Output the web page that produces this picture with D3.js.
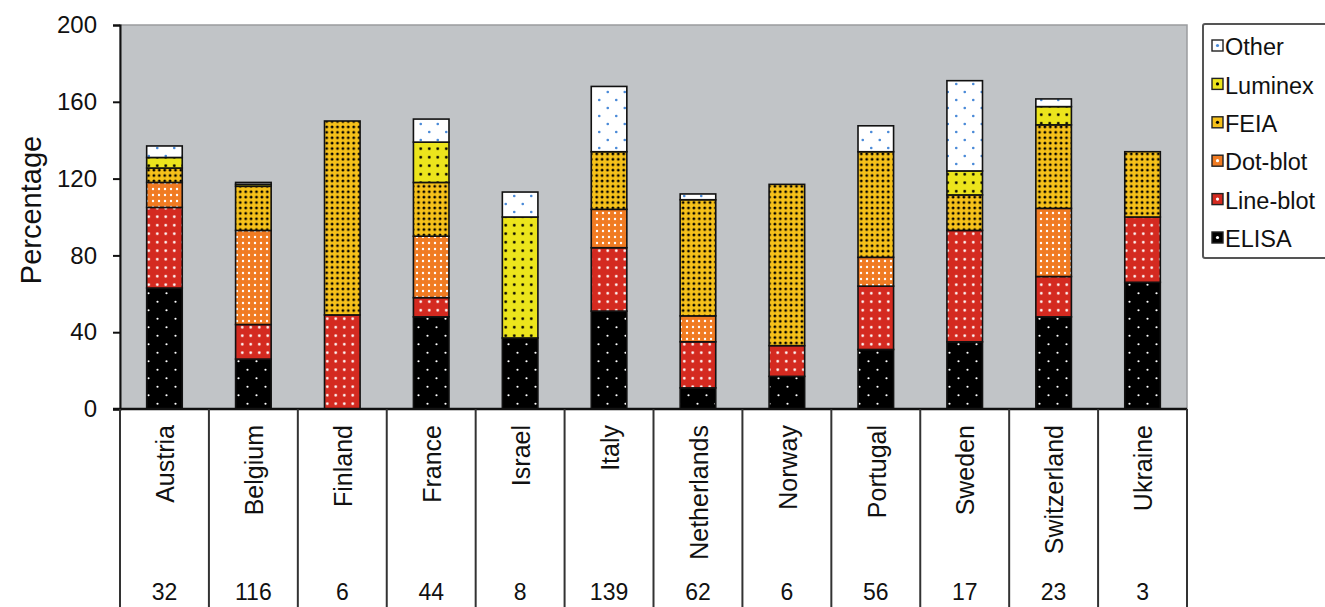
<!DOCTYPE html>
<html lang="en">
<head>
    <meta charset="UTF-8">
    <title>Stacked test methods by country</title>
    <script src="https://d3js.org/d3.v7.min.js"></script>
    <style>
        body {
            margin: 0;
            padding: 0;
            background: white;
            font-family: "Liberation Sans", Arial, sans-serif;
        }
    </style>
</head>
<body>
    <div id="chart"></div>
    <script>
        // data
        const countries = ["Austria", "Belgium", "Finland", "France", "Israel", "Italy",
            "Netherlands", "Norway", "Portugal", "Sweden", "Switzerland", "Ukraine"]
        const counts = ["32", "116", "6", "44", "8", "139", "62", "6", "56", "17", "23", "3"]
        const elisa    = [63, 26, 0, 48, 37, 51, 11, 17, 31, 35, 48, 66]
        const lineBlot = [42, 18, 49, 10, 0, 33, 24, 16, 33, 58, 21, 34]
        const dotBlot  = [13, 49, 0, 32, 0, 20, 13.5, 0, 15, 0, 35.5, 0]
        const feia     = [7.5, 23, 101, 28, 0, 30, 60.5, 84, 55, 18.5, 43.5, 34]
        const luminex  = [5.5, 1, 0, 21, 63, 0, 0, 0, 0, 12.5, 9.5, 0]
        const other    = [6, 1, 0, 12, 13, 34, 3, 0, 13.5, 47, 4, 0]
        const seriesNames = ["ELISA", "Line-blot", "Dot-blot", "FEIA", "Luminex", "Other"]
        const yTicks = [0, 40, 80, 120, 160, 200]

        // 1. dimensions
        const width = 1325, height = 607
        const plot = { left: 120, right: 1187, top: 25, bottom: 409 }

        const svg = d3.select("#chart").append("svg")
            .attr("width", width)
            .attr("height", height)
            .style("display", "block")

        // 2. patterns for each method
        const patterns = {
            "ELISA":     { bg: "#000000", dot: "#ffffff", w: 18, h: 17, r: 1.1, stagger: true },
            "Line-blot": { bg: "#d42a20", dot: "#ffffff", w: 8.5, h: 8.5, r: 1.3, stagger: false },
            "Dot-blot":  { bg: "#f07b22", dot: "#ffffff", w: 6, h: 6, r: 1.2, stagger: false },
            "FEIA":      { bg: "#f6c11a", dot: "#000000", w: 5.4, h: 5.4, r: 1.4, stagger: false },
            "Luminex":   { bg: "#ece51c", dot: "#000000", w: 8.5, h: 8.5, r: 1.4, stagger: false },
            "Other":     { bg: "#ffffff", dot: "#4a8ad8", w: 17, h: 16, r: 1.3, stagger: true }
        }
        const defs = svg.append("defs")
        seriesNames.forEach(name => {
            const p = patterns[name]
            const pat = defs.append("pattern")
                .attr("id", "pat-" + name)
                .attr("patternUnits", "userSpaceOnUse")
                .attr("width", p.w)
                .attr("height", p.h)
            pat.append("rect").attr("width", p.w).attr("height", p.h).attr("fill", p.bg)
            if (p.stagger) {
                pat.append("circle").attr("cx", p.w * 0.25).attr("cy", p.h * 0.25).attr("r", p.r).attr("fill", p.dot)
                pat.append("circle").attr("cx", p.w * 0.75).attr("cy", p.h * 0.75).attr("r", p.r).attr("fill", p.dot)
            } else {
                pat.append("circle").attr("cx", p.w / 2).attr("cy", p.h / 2).attr("r", p.r).attr("fill", p.dot)
            }
        })

        // 3. scales
        const xScale = d3.scaleBand()
            .domain(countries)
            .range([plot.left, plot.right])
            .paddingInner(0.6)
            .paddingOuter(0.3)

        const yScale = d3.scaleLinear()
            .domain([0, 200])
            .range([plot.bottom, plot.top])

        // plot background
        svg.append("rect")
            .attr("x", plot.left)
            .attr("y", plot.top)
            .attr("width", plot.right - plot.left)
            .attr("height", plot.bottom - plot.top)
            .attr("fill", "#c1c4c7")
            .attr("stroke", "#9a9c9f")
            .attr("stroke-width", 1.5)

        // 4. stacked bars
        const table = countries.map((c, i) => ({
            country: c,
            "ELISA": elisa[i],
            "Line-blot": lineBlot[i],
            "Dot-blot": dotBlot[i],
            "FEIA": feia[i],
            "Luminex": luminex[i],
            "Other": other[i]
        }))
        const stacked = d3.stack().keys(seriesNames)(table)

        svg.append("g")
            .selectAll("g")
            .data(stacked)
            .join("g")
                .attr("fill", d => `url(#pat-${d.key})`)
            .selectAll("rect")
            .data(d => d.filter(s => s[1] - s[0] > 0))
            .join("rect")
                .attr("x", d => xScale(d.data.country))
                .attr("width", xScale.bandwidth())
                .attr("y", d => yScale(d[1]))
                .attr("height", d => yScale(d[0]) - yScale(d[1]))
                .attr("stroke", "#111")
                .attr("stroke-width", 1.6)

        // 5. y axis
        const yAxis = svg.append("g")
            .attr("transform", `translate(${plot.left},0)`)
            .call(d3.axisLeft(yScale).tickValues(yTicks).tickSize(7).tickPadding(16))
        yAxis.select(".domain").attr("stroke", "#111").attr("stroke-width", 2)
        yAxis.selectAll(".tick line").attr("stroke", "#111").attr("stroke-width", 2)
        yAxis.selectAll(".tick text")
            .attr("font-family", "Liberation Sans, Arial, sans-serif")
            .attr("font-size", 24)
            .attr("fill", "#111")

        svg.append("text")
            .attr("transform", `translate(41,210) rotate(-90)`)
            .attr("text-anchor", "middle")
            .attr("font-size", 29)
            .attr("fill", "#111")
            .text("Percentage")

        // 6. bottom table
        svg.append("line")
            .attr("x1", plot.left - 7).attr("x2", plot.right)
            .attr("y1", plot.bottom).attr("y2", plot.bottom)
            .attr("stroke", "#111").attr("stroke-width", 2.5)

        const edges = [plot.left].concat(countries.map(c => xScale(c) - xScale.step() * xScale.paddingOuter() + xScale.step()))
        svg.append("g")
            .selectAll("line")
            .data(edges)
            .join("line")
                .attr("x1", d => d).attr("x2", d => d)
                .attr("y1", plot.bottom).attr("y2", height)
                .attr("stroke", "#333")
                .attr("stroke-width", 2)

        svg.append("g")
            .selectAll("text")
            .data(countries)
            .join("text")
                .attr("transform", d => `translate(${xScale(d) + xScale.bandwidth() / 2 + 1},425) rotate(-90)`)
                .attr("text-anchor", "end")
                .attr("dy", "0.35em")
                .attr("font-size", 25)
                .attr("fill", "#111")
                .text(d => d)

        svg.append("g")
            .selectAll("text")
            .data(counts)
            .join("text")
                .attr("x", (d, i) => xScale(countries[i]) + xScale.bandwidth() / 2)
                .attr("y", 600)
                .attr("text-anchor", "middle")
                .attr("font-size", 23)
                .attr("fill", "#111")
                .text(d => d)

        // 7. legend
        const legend = svg.append("g")
        legend.append("rect")
            .attr("x", 1203).attr("y", 24)
            .attr("width", 130).attr("height", 234)
            .attr("fill", "white")
            .attr("stroke", "#555")
            .attr("stroke-width", 2)
            .attr("rx", 2)

        const legendOrder = seriesNames.slice().reverse()
        const legendY = d3.scalePoint().domain(legendOrder).range([47, 239])
        const items = legend.selectAll("g.item")
            .data(legendOrder)
            .join("g")
                .attr("class", "item")
                .attr("transform", d => `translate(1212,${legendY(d)})`)
        items.append("rect")
            .attr("x", 0).attr("y", -7)
            .attr("width", 11).attr("height", 11)
            .attr("fill", d => patterns[d].bg)
            .attr("stroke", "#222")
            .attr("stroke-width", 1.4)
        items.append("circle")
            .attr("cx", 5.5).attr("cy", -1.5).attr("r", 1.6)
            .attr("fill", d => patterns[d].dot)
        items.append("text")
            .attr("x", 13)
            .attr("y", 0)
            .attr("dy", "0.35em")
            .attr("font-size", 23.5)
            .attr("fill", "#111")
            .text(d => d)
    </script>
</body>
</html>
